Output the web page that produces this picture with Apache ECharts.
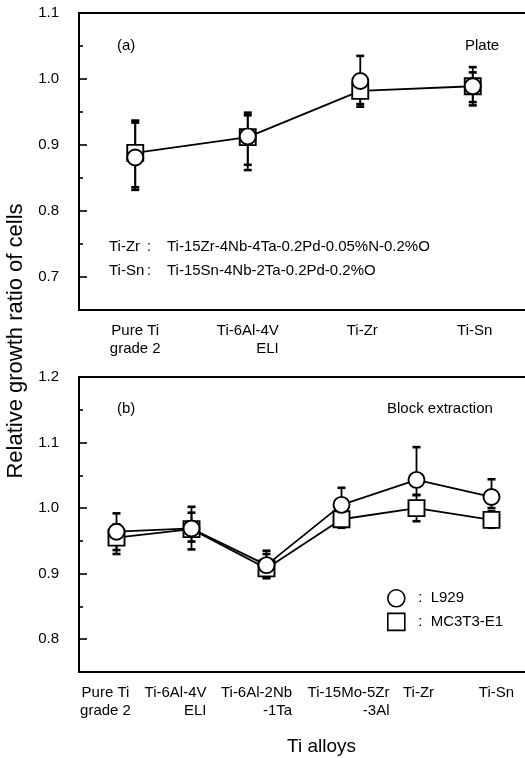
<!DOCTYPE html>
<html>
<head>
<meta charset="utf-8">
<script src="https://cdn.jsdelivr.net/npm/echarts@6/dist/echarts.min.js"></script>
<style>
  html, body { margin: 0; padding: 0; background: #fff; }
  #chart { width: 525px; height: 758px; }
</style>
</head>
<body>
<div id="chart"></div>
<script>
// (a) Plate
const plateAlloys = ['Pure Ti\ngrade 2', 'Ti-6Al-4V\nELI', 'Ti-Zr', 'Ti-Sn'];
const plateL929 = [0.881, 0.913, 0.997, 0.989];
const plateL929Lo = [0.832, 0.870, 0.962, 0.960];
const plateL929Hi = [0.934, 0.945, 1.035, 1.018];
const plateMC3T3 = [0.888, 0.912, 0.982, 0.989];
const plateMC3T3Lo = [0.836, 0.862, 0.958, 0.965];
const plateMC3T3Hi = [0.937, 0.949, 1.000, 1.010];

// (b) Block extraction
const blockAlloys = ['Pure Ti\ngrade 2', 'Ti-6Al-4V\nELI', 'Ti-6Al-2Nb\n-1Ta', 'Ti-15Mo-5Zr\n-3Al', 'Ti-Zr', 'Ti-Sn'];
const blockL929 = [0.964, 0.969, 0.913, 1.005, 1.043, 1.017];
const blockL929Lo = [0.936, 0.937, 0.893, 0.985, 1.020, 1.000];
const blockL929Hi = [0.992, 1.002, 0.935, 1.031, 1.093, 1.044];
const blockMC3T3 = [0.955, 0.968, 0.908, 0.983, 1.000, 0.982];
const blockMC3T3Lo = [0.930, 0.949, 0.895, 0.970, 0.980, 0.970];
const blockMC3T3Hi = [0.975, 0.993, 0.930, 1.000, 1.020, 0.995];

// axis ticks
const plateTicks = [0.7, 0.8, 0.9, 1.0, 1.1];
const plateMinor = [0.75, 0.85, 0.95, 1.05];
const blockTicks = [0.8, 0.9, 1.0, 1.1, 1.2];
const blockMinor = [0.85, 0.95, 1.05, 1.15];

const legendNames = ['L929', 'MC3T3-E1'];

// label nudges (px) so the long names don't collide
const plateShift = [0, 0, 2, 2];
const blockShift = [-11, -16, -10, 7, 2, 5];

const FONT = "'Liberation Sans', Arial, sans-serif";
const chart = echarts.init(document.getElementById('chart'));

function catData(names, shifts) {
  return names.map((n, i) => {
    const s = shifts[i];
    return { value: n, textStyle: { padding: s > 0 ? [0, 0, 0, 2 * s] : [0, -2 * s, 0, 0] } };
  });
}

function errRows(lo, hi) {
  return lo.map((v, i) => [i, v, hi[i]]);
}

function errorBar(params, api) {
  const x = api.value(0);
  const lo = api.coord([x, api.value(1)]);
  const hi = api.coord([x, api.value(2)]);
  const w = 4;
  const st = { stroke: '#000', lineWidth: 1.8 };
  const cap = { stroke: '#000', lineWidth: 2.6 };
  return {
    type: 'group',
    children: [
      { type: 'line', shape: { x1: lo[0], y1: lo[1], x2: hi[0], y2: hi[1] }, style: st },
      { type: 'line', shape: { x1: lo[0] - w, y1: lo[1], x2: lo[0] + w, y2: lo[1] }, style: cap },
      { type: 'line', shape: { x1: hi[0] - w, y1: hi[1], x2: hi[0] + w, y2: hi[1] }, style: cap }
    ]
  };
}

const labelFmt = v => v.split('\n').map((s, i) => i === 0 ? s : '{r|' + s + '}').join('\n');

function xAxisFor(gridIndex, names, shifts) {
  return {
    type: 'category',
    gridIndex,
    data: catData(names, shifts),
    axisLine: { lineStyle: { color: '#000', width: 2 } },
    axisTick: { inside: true, alignWithLabel: true, length: 6, lineStyle: { color: '#000', width: 1.6 } },
    axisLabel: {
      interval: 0, margin: 12, color: '#000', fontSize: 15, fontFamily: FONT, lineHeight: 18,
      formatter: labelFmt,
      rich: { r: { align: 'right', fontSize: 15, fontFamily: FONT, color: '#000', lineHeight: 18 } }
    },
    splitLine: { show: false }
  };
}

function yAxesFor(gridIndex, min, max, ticks, minor) {
  return [{
    type: 'value', gridIndex, min, max, position: 'left',
    axisLine: { show: true, lineStyle: { color: '#000', width: 2 } },
    axisTick: { show: true, inside: true, length: 8, customValues: ticks, lineStyle: { color: '#000', width: 1.6 } },
    axisLabel: { customValues: ticks, margin: 20, color: '#000', fontSize: 15, fontFamily: FONT, formatter: v => v.toFixed(1) },
    splitLine: { show: false }
  }, {
    type: 'value', gridIndex, min, max, position: 'left', offset: 0,
    axisLine: { show: false },
    axisTick: { show: true, inside: true, length: 4, customValues: minor, lineStyle: { color: '#000', width: 1.6 } },
    axisLabel: { show: false },
    splitLine: { show: false }
  }];
}

const markerStyle = { color: '#fff', borderColor: '#000', borderWidth: 1.9, opacity: 1 };
const lineStyle = { color: '#000', width: 1.8 };

function txt(left, top, text, size, extra) {
  return Object.assign({
    type: 'text', left, top,
    style: { text, fill: '#000', font: size + 'px ' + FONT }
  }, extra || {});
}

const option = {
  animation: false,
  backgroundColor: '#fff',
  grid: [
    { left: 79, top: 13, width: 450, height: 297, show: true, borderColor: '#000', borderWidth: 2, outerBoundsMode: 'none', containLabel: false },
    { left: 79, top: 377, width: 450, height: 295, show: true, borderColor: '#000', borderWidth: 2, outerBoundsMode: 'none', containLabel: false }
  ],
  xAxis: [xAxisFor(0, plateAlloys, plateShift), xAxisFor(1, blockAlloys, blockShift)],
  yAxis: [].concat(yAxesFor(0, 0.65, 1.1, plateTicks, plateMinor), yAxesFor(1, 0.75, 1.2, blockTicks, blockMinor)),
  legend: {
    orient: 'vertical', left: 382, top: 584,
    itemWidth: 17, itemHeight: 17, itemGap: 5,
    data: [{ name: legendNames[0], icon: 'circle' }, { name: legendNames[1], icon: 'rect' }],
    itemStyle: { color: '#fff', borderColor: '#000', borderWidth: 1.6 },
    formatter: n => '  :  ' + n,
    textStyle: { color: '#000', fontSize: 15, fontFamily: FONT },
    selectedMode: false
  },
  series: [
    { type: 'custom', xAxisIndex: 0, yAxisIndex: 0, z: 1, renderItem: errorBar, encode: { x: 0, y: [1, 2] }, data: errRows(plateMC3T3Lo, plateMC3T3Hi) },
    { type: 'custom', xAxisIndex: 0, yAxisIndex: 0, z: 1, renderItem: errorBar, encode: { x: 0, y: [1, 2] }, data: errRows(plateL929Lo, plateL929Hi) },
    { type: 'custom', xAxisIndex: 1, yAxisIndex: 2, z: 1, renderItem: errorBar, encode: { x: 0, y: [1, 2] }, data: errRows(blockMC3T3Lo, blockMC3T3Hi) },
    { type: 'custom', xAxisIndex: 1, yAxisIndex: 2, z: 1, renderItem: errorBar, encode: { x: 0, y: [1, 2] }, data: errRows(blockL929Lo, blockL929Hi) },
    {
      name: legendNames[1], type: 'line', xAxisIndex: 0, yAxisIndex: 0, data: plateMC3T3,
      symbol: 'rect', symbolSize: 16, showAllSymbol: true, itemStyle: markerStyle, lineStyle
    },
    {
      name: legendNames[0], type: 'scatter', xAxisIndex: 0, yAxisIndex: 0, data: plateL929,
      symbol: 'circle', symbolSize: 16, itemStyle: markerStyle, z: 3
    },
    {
      name: legendNames[1], type: 'line', xAxisIndex: 1, yAxisIndex: 2, data: blockMC3T3,
      symbol: 'rect', symbolSize: 16, showAllSymbol: true, itemStyle: markerStyle, lineStyle
    },
    {
      name: legendNames[0], type: 'line', xAxisIndex: 1, yAxisIndex: 2, data: blockL929,
      symbol: 'circle', symbolSize: 16, showAllSymbol: true, itemStyle: markerStyle, lineStyle, z: 3
    }
  ],
  graphic: [
    txt(117, 38, '(a)', 15),
    txt(465, 38, 'Plate', 15),
    txt(109, 239, 'Ti-Zr', 15),
    txt(147, 239, ':', 15),
    txt(167, 239, 'Ti-15Zr-4Nb-4Ta-0.2Pd-0.05%N-0.2%O', 15),
    txt(109, 263, 'Ti-Sn', 15),
    txt(147, 263, ':', 15),
    txt(167, 263, 'Ti-15Sn-4Nb-2Ta-0.2Pd-0.2%O', 15),
    txt(117, 401, '(b)', 15),
    txt(387, 401, 'Block extraction', 15),
    txt(287, 737, 'Ti alloys', 19),
    {
      type: 'text', x: 16, y: 341, rotation: Math.PI / 2,
      style: { text: 'Relative growth ratio of cells', fill: '#000', font: '22px ' + FONT, align: 'center', verticalAlign: 'middle' }
    }
  ]
};

chart.setOption(option);
</script>
</body>
</html>
